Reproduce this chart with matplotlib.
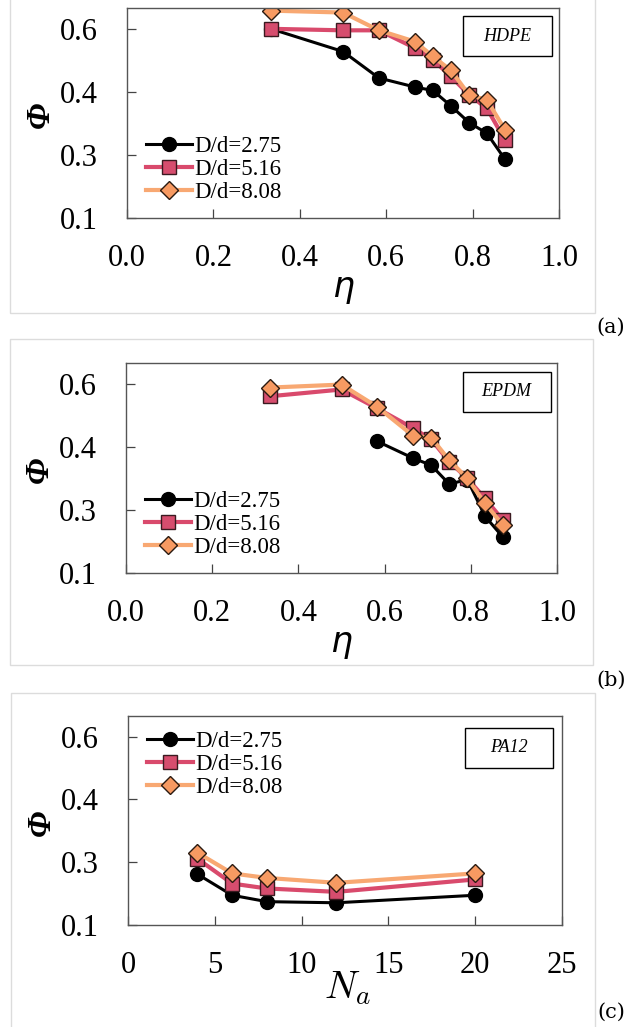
import numpy as np
import matplotlib
matplotlib.use('Agg')
import matplotlib.pyplot as plt
from matplotlib.patches import Rectangle

plt.rcParams['mathtext.fontset'] = 'cm'

# panel (a) HDPE
eta = [0.333, 0.5, 0.583, 0.667, 0.708, 0.75, 0.792, 0.833, 0.875]
hdpe_275 = [0.600, 0.540, 0.470, 0.446, 0.437, 0.396, 0.352, 0.324, 0.255]
hdpe_516 = [0.600, 0.596, 0.596, 0.549, 0.518, 0.474, 0.425, 0.390, 0.306]
hdpe_808 = [0.648, 0.643, 0.596, 0.566, 0.527, 0.490, 0.425, 0.412, 0.333]

# panel (b) EPDM
eta_epdm_275 = [0.583, 0.667, 0.708, 0.75, 0.792, 0.833, 0.875]
epdm_275 = [0.448, 0.403, 0.385, 0.335, 0.347, 0.250, 0.194]
epdm_516 = [0.567, 0.585, 0.535, 0.482, 0.453, 0.394, 0.350, 0.297, 0.239]
epdm_808 = [0.590, 0.598, 0.539, 0.462, 0.458, 0.398, 0.350, 0.284, 0.226]

# panel (c) PA12
n_a = [4, 6, 8, 12, 20]
pa12_275 = [0.235, 0.179, 0.162, 0.159, 0.179]
pa12_516 = [0.276, 0.210, 0.197, 0.188, 0.221]
pa12_808 = [0.292, 0.237, 0.225, 0.212, 0.237]

labels = ['D/d=2.75', 'D/d=5.16', 'D/d=8.08']
materials = ['HDPE', 'EPDM', 'PA12']

W, H = 637, 1027
fig = plt.figure(figsize=(W / 100, H / 100), dpi=100)

serif = 'Liberation Serif'


def px_axes(left, top, right, bottom):
    return fig.add_axes([left / W, 1 - bottom / H, (right - left) / W, (bottom - top) / H])


def frame(x0, y0, x1, y1):
    fig.patches.append(Rectangle((x0 / W, 1 - y1 / H), (x1 - x0) / W, (y1 - y0) / H,
                                 transform=fig.transFigure, fill=False,
                                 edgecolor='#dcdcdc', linewidth=1.0))


def draw_panel(ax, series, xlim, xticks, xfmt, xlabel, xlabel_pos, mat, box, legend_loc):
    styles = [
        dict(color='black', lw=2.2, marker='o', ms=10, mfc='black', mec='black'),
        dict(color='#d94a6c', lw=3.0, marker='s', ms=10.5, mfc='#d64d6e', mec='#3a1a20', mew=1.0),
        dict(color='#f8a872', lw=3.0, marker='D', ms=9, mfc='#f79a62', mec='#2a1a10', mew=1.0),
    ]
    for (x, y), st, lab in zip(series, styles, labels):
        ax.plot(x, y, label=lab, **st)

    ax.set_xlim(*xlim)
    ax.set_ylim(0.1, 0.655)
    ax.set_xticks(xticks)
    ax.set_xticklabels([xfmt % v for v in xticks])
    yt = np.linspace(0.1, 0.6, 4)
    ax.set_yticks(yt)
    ax.set_yticklabels(['%.1f' % v for v in yt])
    ax.tick_params(direction='in', length=6.5, width=0.9, color='#444444',
                   labelsize=22, pad=19)
    ax.tick_params(axis='y', pad=21)
    for lab in ax.get_xticklabels() + ax.get_yticklabels():
        lab.set_family(serif)
    ax.tick_params(top=False, right=False)
    for sp in ax.spines.values():
        sp.set_color('#555555')
        sp.set_linewidth(1.0)

    ax.text(-0.2, 0.49, 'Φ', transform=ax.transAxes, rotation=90,
            fontsize=24, ha='center', va='center', style='italic',
            fontweight='bold', family=serif)
    if xlabel == 'eta':
        ax.text(xlabel_pos[0], xlabel_pos[1], 'η', transform=ax.transAxes,
                fontsize=25, ha='center', va='center', style='italic', family='DejaVu Sans')
    else:
        ax.text(xlabel_pos[0], xlabel_pos[1], xlabel, transform=ax.transAxes,
                fontsize=28, ha='center', va='center')

    x0, y0, x1, y1 = box
    ax.add_patch(Rectangle((x0, y0), x1 - x0, y1 - y0, transform=ax.transAxes,
                           fill=False, edgecolor='black', linewidth=1.0))
    ax.text((x0 + x1) / 2, (y0 + y1) / 2, mat, transform=ax.transAxes,
            ha='center', va='center', fontsize=13, style='italic', family=serif)

    leg = ax.legend(loc=legend_loc, frameon=False, prop={'family': serif, 'size': 16.5},
                    handlelength=2.0, handletextpad=0.1, labelspacing=0.08,
                    borderaxespad=0.25, bbox_to_anchor=(0.01, 0.0, 1, 1))
    return leg


# frames and panel labels
frame(10, -5, 595, 313)
frame(10, 339, 593, 665)
frame(11, 693, 595, 1035)
for lab, yy in zip(['(a)', '(b)', '(c)'], [327, 680, 1012]):
    fig.text(611 / W, 1 - yy / H, lab, ha='center', va='center', fontsize=15,
             family='DejaVu Serif')

ax_a = px_axes(127, 8, 559, 218)
draw_panel(ax_a, [(eta, hdpe_275), (eta, hdpe_516), (eta, hdpe_808)],
           (0, 1.0), [0.0, 0.2, 0.4, 0.6, 0.8, 1.0], '%.1f', 'eta', (0.5, -0.33),
           materials[0], (0.778, 0.771, 0.984, 0.962), 'lower left')

ax_b = px_axes(126, 363, 557, 573)
draw_panel(ax_b, [(eta_epdm_275, epdm_275), (eta, epdm_516), (eta, epdm_808)],
           (0, 1.0), [0.0, 0.2, 0.4, 0.6, 0.8, 1.0], '%.1f', 'eta', (0.5, -0.33),
           materials[1], (0.781, 0.768, 0.985, 0.959), 'lower left')

ax_c = px_axes(128, 716, 562, 925)
draw_panel(ax_c, [(n_a, pa12_275), (n_a, pa12_516), (n_a, pa12_808)],
           (0, 25), [0, 5, 10, 15, 20, 25], '%d', r'$N_a$', (0.505, -0.3),
           materials[2], (0.776, 0.75, 0.98, 0.944), 'upper left')

fig.savefig('out.png', dpi=100)
